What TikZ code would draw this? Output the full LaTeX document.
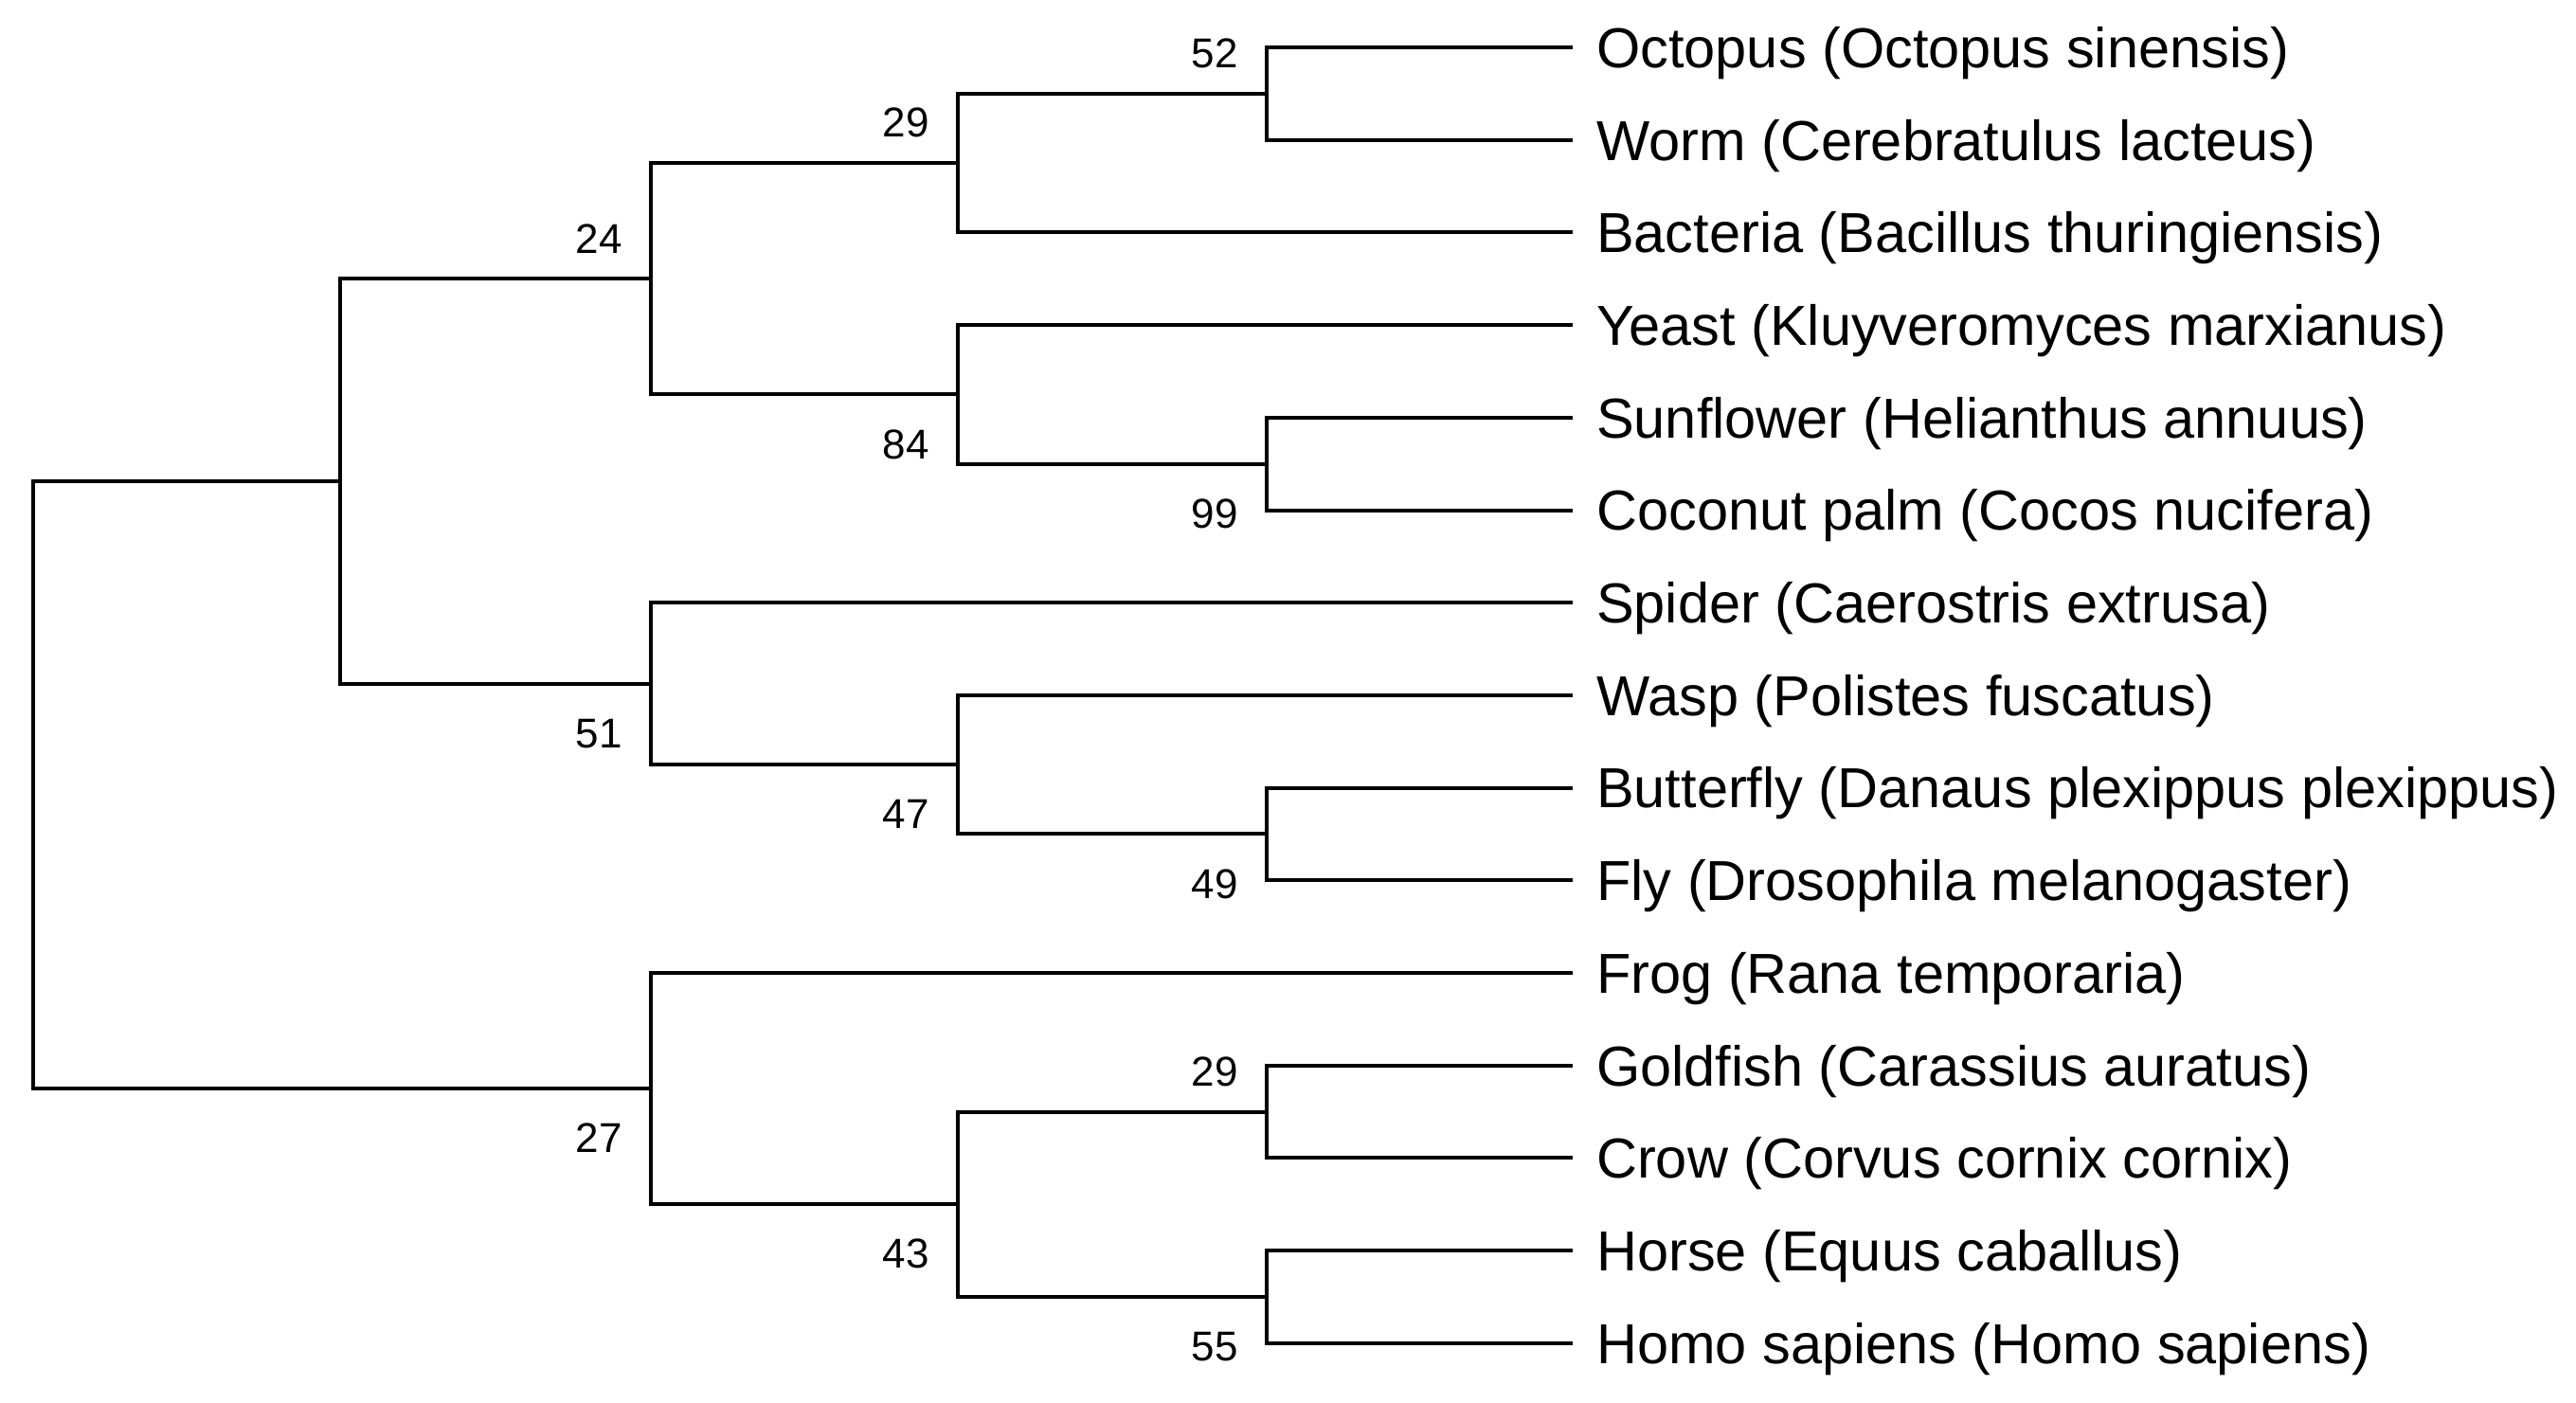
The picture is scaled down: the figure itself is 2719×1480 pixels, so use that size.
\documentclass[tikz,border=0pt]{standalone}
\usepackage{fontspec}
\setmainfont{Liberation Sans}
\begin{document}
\begin{tikzpicture}[x=1pt,y=-1pt,
  branch/.style={line width=4pt, line join=miter, line cap=rect},
  leaf/.style={anchor=west, inner xsep=27pt, inner ysep=0pt, text height=42.6pt, text depth=0pt, font=\fontsize{59.5}{60}\selectfont},
  bsup/.style={anchor=south east, inner sep=0pt, text height=31.5pt, text depth=0pt, font=\fontsize{44}{44}\selectfont},
  bsdown/.style={bsup, anchor=north east}]
\useasboundingbox (0,0) rectangle (2719,1480);
% leaves
\node[leaf] (octopus)   at (1658,50)     {Octopus (Octopus sinensis)};
\node[leaf] (worm)      at (1658,147.7)  {Worm (Cerebratulus lacteus)};
\node[leaf] (bacteria)  at (1658,245.4)  {Bacteria (Bacillus thuringiensis)};
\node[leaf] (yeast)     at (1658,343.1)  {Yeast (Kluyveromyces marxianus)};
\node[leaf] (sunflower) at (1658,440.8)  {Sunflower (Helianthus annuus)};
\node[leaf] (coconut)   at (1658,538.5)  {Coconut palm (Cocos nucifera)};
\node[leaf] (spider)    at (1658,636.2)  {Spider (Caerostris extrusa)};
\node[leaf] (wasp)      at (1658,733.9)  {Wasp (Polistes fuscatus)};
\node[leaf] (butterfly) at (1658,831.6)  {Butterfly (Danaus plexippus plexippus)};
\node[leaf] (fly)       at (1658,929.3)  {Fly (Drosophila melanogaster)};
\node[leaf] (frog)      at (1658,1027)   {Frog (Rana temporaria)};
\node[leaf] (goldfish)  at (1658,1124.7) {Goldfish (Carassius auratus)};
\node[leaf] (crow)      at (1658,1222.4) {Crow (Corvus cornix cornix)};
\node[leaf] (horse)     at (1658,1320.1) {Horse (Equus caballus)};
\node[leaf] (homo)      at (1658,1417.8) {Homo sapiens (Homo sapiens)};
% internal nodes
\coordinate (n52)  at (1337,98.85);
\coordinate (n29a) at (1011,172.1);
\coordinate (n99)  at (1337,489.65);
\coordinate (n84)  at (1011,416.4);
\coordinate (n24)  at (687,294.25);
\coordinate (n49)  at (1337,880.45);
\coordinate (n47)  at (1011,807.2);
\coordinate (n51)  at (687,721.7);
\coordinate (nL1)  at (359,508);
\coordinate (n29b) at (1337,1173.55);
\coordinate (n55)  at (1337,1368.95);
\coordinate (n43)  at (1011,1271.25);
\coordinate (n27)  at (687,1149.1);
\coordinate (root) at (35,828.6);
% branches
\draw[branch] (n52) |- (octopus.west);
\draw[branch] (n52) |- (worm.west);
\draw[branch] (n29a) |- (n52);
\draw[branch] (n29a) |- (bacteria.west);
\draw[branch] (n99) |- (sunflower.west);
\draw[branch] (n99) |- (coconut.west);
\draw[branch] (n84) |- (yeast.west);
\draw[branch] (n84) |- (n99);
\draw[branch] (n24) |- (n29a);
\draw[branch] (n24) |- (n84);
\draw[branch] (n49) |- (butterfly.west);
\draw[branch] (n49) |- (fly.west);
\draw[branch] (n47) |- (wasp.west);
\draw[branch] (n47) |- (n49);
\draw[branch] (n51) |- (spider.west);
\draw[branch] (n51) |- (n47);
\draw[branch] (nL1) |- (n24);
\draw[branch] (nL1) |- (n51);
\draw[branch] (n29b) |- (goldfish.west);
\draw[branch] (n29b) |- (crow.west);
\draw[branch] (n55) |- (horse.west);
\draw[branch] (n55) |- (homo.west);
\draw[branch] (n43) |- (n29b);
\draw[branch] (n43) |- (n55);
\draw[branch] (n27) |- (frog.west);
\draw[branch] (n27) |- (n43);
\draw[branch] (root) |- (nL1);
\draw[branch] (root) |- (n27);
% bootstrap values
\node[bsup]   (b52)  at ([xshift=-30pt,yshift=27pt]n52)  {52};
\node[bsup]   (b29a) at ([xshift=-30pt,yshift=27pt]n29a) {29};
\node[bsup]   (b24)  at ([xshift=-30pt,yshift=27pt]n24)  {24};
\node[bsdown] (b84)  at ([xshift=-30pt,yshift=-36pt]n84) {84};
\node[bsdown] (b99)  at ([xshift=-30pt,yshift=-36pt]n99) {99};
\node[bsdown] (b51)  at ([xshift=-30pt,yshift=-36pt]n51) {51};
\node[bsdown] (b47)  at ([xshift=-30pt,yshift=-36pt]n47) {47};
\node[bsdown] (b49)  at ([xshift=-30pt,yshift=-36pt]n49) {49};
\node[bsdown] (b27)  at ([xshift=-30pt,yshift=-36pt]n27) {27};
\node[bsdown] (b43)  at ([xshift=-30pt,yshift=-36pt]n43) {43};
\node[bsup]   (b29b) at ([xshift=-30pt,yshift=27pt]n29b) {29};
\node[bsdown] (b55)  at ([xshift=-30pt,yshift=-36pt]n55) {55};
\end{tikzpicture}
\end{document}
